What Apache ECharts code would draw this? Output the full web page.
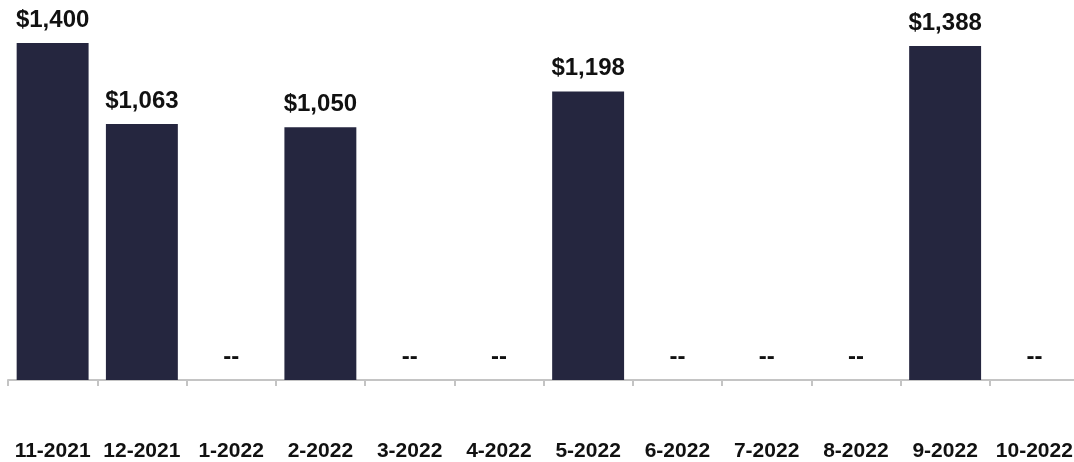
<!DOCTYPE html>
<html>
<head>
<meta charset="utf-8">
<script src="https://cdn.jsdelivr.net/npm/echarts@6/dist/echarts.min.js"></script>
<style>
html,body{margin:0;padding:0;background:#fff;}
#chart{width:1074px;height:462px;}
</style>
</head>
<body>
<div id="chart"></div>
<script>
const categories = ['11-2021','12-2021','1-2022','2-2022','3-2022','4-2022','5-2022','6-2022','7-2022','8-2022','9-2022','10-2022'];
const values = [1400, 1063, 0, 1050, 0, 0, 1198, 0, 0, 0, 1388, 0];

const chart = echarts.init(document.getElementById('chart'));
chart.setOption({
  animation: false,
  grid: { left: 8, width: 1071, top: 43, bottom: 82, containLabel: false, outerBoundsMode: 'none' },
  xAxis: {
    type: 'category',
    data: categories,
    axisLine: { lineStyle: { color: '#c4c4c4', width: 2 } },
    axisTick: { show: true, length: 6, lineStyle: { color: '#c4c4c4', width: 2 } },
    axisLabel: {
      interval: 0,
      margin: 61,
      color: '#111',
      fontSize: 21,
      fontWeight: 'bold',
      fontFamily: 'Liberation Sans, Arial, sans-serif'
    }
  },
  yAxis: {
    type: 'value',
    min: 0,
    max: 1400,
    show: false,
    splitLine: { show: false }
  },
  series: [{
    type: 'bar',
    data: values,
    barWidth: '80.6%',
    itemStyle: { color: '#25263f' },
    label: {
      show: true,
      position: 'top',
      distance: 11,
      color: '#111',
      fontSize: 24,
      fontWeight: 'bold',
      fontFamily: 'Liberation Sans, Arial, sans-serif',
      formatter: p => p.value ? '$' + p.value.toLocaleString('en-US') : '--'
    }
  }]
});
</script>
</body>
</html>
